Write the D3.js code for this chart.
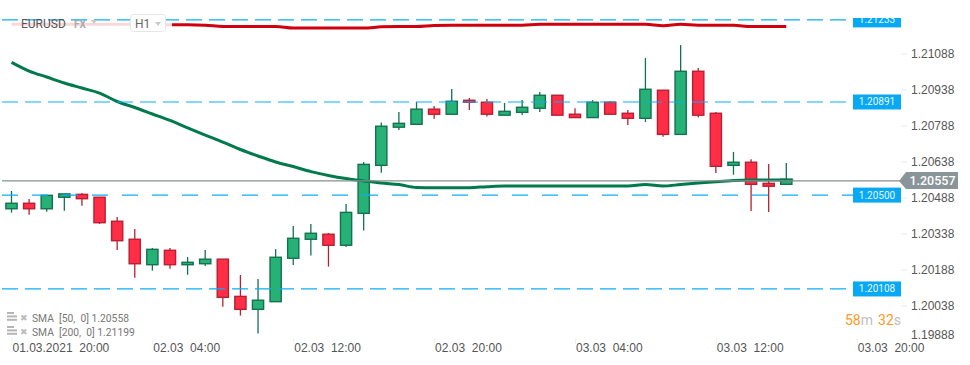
<!DOCTYPE html>
<html>
<head>
<meta charset="utf-8">
<script src="https://cdn.jsdelivr.net/npm/d3@7"></script>
<style>
    body { margin: 0; background: #fff; }
    svg { display: block; font-family: Roboto, sans-serif; }
    text { white-space: pre; }
</style>
</head>
<body>
<div id="chart"></div>
<script>
// hourly candles, first one is 01.03.2021 20:00
const opens = [1.20441, 1.20464, 1.20441, 1.20489, 1.20501, 1.20489, 1.20389, 1.20314, 1.20208, 1.20268, 1.20208, 1.20212, 1.20231, 1.20076, 1.20022,
    1.20054, 1.20235, 1.20314, 1.20335, 1.20289, 1.20422, 1.20622, 1.20781, 1.20793, 1.20856, 1.20835, 1.20893, 1.20885, 1.20831, 1.20843,
    1.20860, 1.20914, 1.20835, 1.20821, 1.20885, 1.20839, 1.20818, 1.20935, 1.20751, 1.21014, 1.20839, 1.20622, 1.20635, 1.20547, 1.20543];
const highs = [1.20515, 1.20482, 1.20497, 1.20503, 1.20507, 1.20489, 1.20407, 1.20357, 1.20278, 1.20278, 1.20240, 1.20269, 1.20231, 1.20165, 1.20148,
    1.20273, 1.20369, 1.20378, 1.20340, 1.20461, 1.20636, 1.20801, 1.20844, 1.20886, 1.20869, 1.20940, 1.20903, 1.20898, 1.20882, 1.20894,
    1.20928, 1.20915, 1.20860, 1.20894, 1.20890, 1.20853, 1.21069, 1.20935, 1.21123, 1.21028, 1.20844, 1.20678, 1.20647, 1.20628, 1.20632];
const lows = [1.20425, 1.20416, 1.20429, 1.20433, 1.20454, 1.20378, 1.20269, 1.20154, 1.20183, 1.20191, 1.20166, 1.20203, 1.20033, 1.19996, 1.19921,
    1.20054, 1.20207, 1.20246, 1.20200, 1.20282, 1.20350, 1.20591, 1.20769, 1.20793, 1.20816, 1.20835, 1.20853, 1.20825, 1.20831, 1.20832,
    1.20844, 1.20831, 1.20821, 1.20821, 1.20835, 1.20790, 1.20803, 1.20741, 1.20751, 1.20821, 1.20590, 1.20583, 1.20432, 1.20428, 1.20543];
const closes = [1.20464, 1.20441, 1.20497, 1.20503, 1.20483, 1.20383, 1.20308, 1.20212, 1.20272, 1.20208, 1.20218, 1.20231, 1.20072, 1.20022, 1.20060,
    1.20239, 1.20318, 1.20339, 1.20289, 1.20426, 1.20626, 1.20785, 1.20797, 1.20856, 1.20835, 1.20889, 1.20885, 1.20835, 1.20847, 1.20864,
    1.20914, 1.20831, 1.20821, 1.20885, 1.20835, 1.20818, 1.20939, 1.20751, 1.21014, 1.20831, 1.20618, 1.20635, 1.20543, 1.20535, 1.20564];

const sma50 = [1.21051, 1.21015, 1.20990, 1.20965, 1.20944, 1.20923, 1.20888, 1.20863, 1.20836, 1.20809, 1.20778, 1.20748, 1.20719, 1.20688, 1.20661,
    1.20636, 1.20617, 1.20596, 1.20580, 1.20567, 1.20557, 1.20548, 1.20542, 1.20530, 1.20529, 1.20529, 1.20529, 1.20533, 1.20536, 1.20536,
    1.20536, 1.20536, 1.20536, 1.20536, 1.20536, 1.20536, 1.20542, 1.20536, 1.20542, 1.20548, 1.20554, 1.20559, 1.20561, 1.20561, 1.20561];
const sma200 = [1.21210, 1.21210, 1.21210, 1.21210, 1.21210, 1.21210, 1.21210, 1.21210, 1.21210, 1.21208, 1.21208, 1.21206, 1.21201, 1.21200, 1.21200,
    1.21201, 1.21194, 1.21194, 1.21194, 1.21194, 1.21194, 1.21199, 1.21201, 1.21201, 1.21205, 1.21206, 1.21206, 1.21206, 1.21206, 1.21206,
    1.21210, 1.21210, 1.21210, 1.21210, 1.21210, 1.21210, 1.21210, 1.21204, 1.21210, 1.21206, 1.21206, 1.21206, 1.21200, 1.21200, 1.21200];

// horizontal levels, label text and where the line sits
const levelLabels = ["1.21233", "1.20891", "1.20500", "1.20108"];
const levelPrices = [1.21228, 1.20886, 1.20498, 1.20107];
const levelDashes = ["16 7", "16 7", "16 14", "16 7"];

const priceTicks = [1.21088, 1.20938, 1.20788, 1.20638, 1.20488, 1.20338, 1.20188, 1.20038, 1.19888];
const currentPrice = 1.20557;

const timeTicks = [
    new Date(2021, 2, 1, 20), new Date(2021, 2, 2, 4), new Date(2021, 2, 2, 12), new Date(2021, 2, 2, 20),
    new Date(2021, 2, 3, 4), new Date(2021, 2, 3, 12), new Date(2021, 2, 3, 20)
];

const legendRows = ["SMA  [50,  0] 1.20558", "SMA  [200,  0] 1.21199"];

const startTime = new Date(2021, 2, 1, 20);
const candleTime = i => d3.timeHour.offset(startTime, i);

const candles = opens.map((o, i) => ({
    time: candleTime(i), open: o, high: highs[i], low: lows[i], close: closes[i]
}));

const width = 970, height = 365;

const x = d3.scaleTime()
    .domain([startTime, candleTime(44)])
    .range([11.5, 786.3]);

const y = d3.scaleLinear()
    .domain([1.21088, 1.20038])
    .range([53.5, 305.5]);

const upColor = "#26b276", upStroke = "#13714f",
    downColor = "#ff2d46", downStroke = "#b81f33",
    bodyWidth = 11.2;

const svg = d3.select("#chart").append("svg")
    .attr("width", width).attr("height", height);

// candles
const candle = svg.append("g").selectAll("g")
    .data(candles)
    .enter()
    .append("g")
    .attr("transform", d => `translate(${x(d.time)}, 0)`);

candle.append("line")
    .attr("y1", d => y(d.high))
    .attr("y2", d => y(d.low))
    .attr("stroke", d => d.close >= d.open ? upStroke : downStroke)
    .attr("stroke-width", 1.3);

candle.append("rect")
    .attr("x", -bodyWidth / 2)
    .attr("width", bodyWidth)
    .attr("y", d => y(Math.max(d.open, d.close)))
    .attr("height", d => Math.abs(y(d.open) - y(d.close)))
    .attr("fill", d => d.close >= d.open ? upColor : downColor)
    .attr("stroke", d => d.close >= d.open ? upStroke : downStroke)
    .attr("stroke-width", 1.4);

// moving averages
const smaLine = d3.line()
    .x((d, i) => x(candleTime(i)))
    .y(d => y(d))
    .curve(d3.curveMonotoneX);

svg.append("path").attr("d", smaLine(sma200))
    .attr("fill", "none").attr("stroke", "#d0000f").attr("stroke-width", 3);

svg.append("path").attr("d", smaLine(sma50))
    .attr("fill", "none").attr("stroke", "#007a4d").attr("stroke-width", 3);

// the fast average runs on a little past the last candle
svg.append("line")
    .attr("x1", x(candleTime(44))).attr("x2", x(candleTime(44)) + 7)
    .attr("y1", y(sma50[44])).attr("y2", y(sma50[44]))
    .attr("stroke", "#007a4d").attr("stroke-width", 3).attr("opacity", 0.6);

// header washes out the line below it
svg.append("rect")
    .attr("x", 0).attr("y", 14).attr("width", 172).attr("height", 20)
    .attr("fill", "#fff").attr("opacity", 0.85);

// levels
svg.append("g").selectAll("line")
    .data(levelPrices)
    .enter()
    .append("line")
    .attr("x1", 2).attr("x2", 853)
    .attr("y1", d => y(d)).attr("y2", d => y(d))
    .attr("stroke", "#0aaef5")
    .attr("stroke-width", 1.2)
    .attr("stroke-dasharray", (d, i) => levelDashes[i]);

// current price line
svg.append("line")
    .attr("x1", 2).attr("x2", 900)
    .attr("y1", y(currentPrice)).attr("y2", y(currentPrice))
    .attr("stroke", "#84918f")
    .attr("stroke-width", 1.3);

// level tags, the top one is cut off at the chart edge
svg.append("clipPath").attr("id", "tagClip")
    .append("rect").attr("x", 840).attr("y", 18).attr("width", 80).attr("height", 300);

const levelTag = svg.append("g").attr("clip-path", "url(#tagClip)")
    .selectAll("g")
    .data(levelPrices)
    .enter()
    .append("g")
    .attr("transform", d => `translate(853, ${y(d)})`);

levelTag.append("rect")
    .attr("y", -7.5).attr("width", 48).attr("height", 15)
    .attr("fill", "#07a9f4");

levelTag.append("text")
    .text((d, i) => levelLabels[i])
    .attr("x", 24)
    .attr("y", 3.5)
    .attr("text-anchor", "middle")
    .attr("fill", "#e9f7ff")
    .style("font-size", "10px");

// price axis
const yAxis = svg.append("g")
    .attr("transform", "translate(901, 0)")
    .call(d3.axisRight(y).tickValues(priceTicks).tickSize(6).tickPadding(4).tickFormat(d3.format(".5f")));

yAxis.select(".domain").remove();
yAxis.selectAll("line").attr("stroke", "#e8e8e8");
yAxis.selectAll("text").attr("fill", "#555").style("font-size", "12px");

// last label does not fit and gets pushed up
const lastTick = yAxis.selectAll(".tick").filter(d => d === priceTicks[priceTicks.length - 1]);
lastTick.select("line").remove();
lastTick.select("text").attr("y", -6.5);

// current price tag
svg.append("path")
    .attr("d", `M899,${y(currentPrice)} L906,172 H958 V189 H906 Z`)
    .attr("fill", "#8a9599");

svg.append("text")
    .text(d3.format(".5f")(currentPrice))
    .attr("x", 932.5)
    .attr("y", y(currentPrice) + 4.5)
    .attr("text-anchor", "middle")
    .attr("fill", "#fff")
    .style("font-size", "12.5px")
    .style("font-weight", 500);

// time axis
const xAxis = svg.append("g")
    .attr("transform", "translate(0, 338)")
    .call(d3.axisBottom(x).tickValues(timeTicks).tickSize(6).tickPadding(0)
        .tickFormat((d, i) => d3.timeFormat(i === 0 ? "%d.%m.%Y  %H:%M" : "%d.%m  %H:%M")(d)));

xAxis.select(".domain").remove();
xAxis.selectAll("line").attr("stroke", "#efefef");
xAxis.selectAll("text")
    .attr("text-anchor", "start")
    .attr("x", 0.5)
    .attr("y", 5)
    .attr("fill", "#555")
    .style("font-size", "12px");

// header
svg.append("text").text("EURUSD")
    .attr("x", 21).attr("y", 27.5)
    .attr("fill", "#555")
    .style("font-size", "12px");

svg.append("text").text("FX")
    .attr("x", 74).attr("y", 28)
    .attr("fill", "#aaa")
    .style("font-size", "10px").style("font-weight", 700);

svg.append("path").attr("d", "M91,20 H97 L94,24 Z").attr("fill", "#c8c8c8");

svg.append("rect")
    .attr("x", 130.5).attr("y", 14.5).attr("width", 35).attr("height", 17).attr("rx", 3)
    .attr("fill", "#fff").attr("stroke", "#e6e6e6");

svg.append("text").text("H1")
    .attr("x", 135).attr("y", 27.5)
    .attr("fill", "#666")
    .style("font-size", "12px");

svg.append("path").attr("d", "M155,22 H161 L158,26 Z").attr("fill", "#c8c8c8");

// indicator legend
const legendRow = svg.append("g").selectAll("g")
    .data(legendRows)
    .enter()
    .append("g")
    .attr("transform", (d, i) => `translate(7, ${312 + i * 14})`);

[0, 3.4, 6.8].forEach((offset, k) => {
    legendRow.append("rect")
        .attr("x", 0).attr("y", offset)
        .attr("width", k === 0 ? 7 : 10).attr("height", 2)
        .attr("fill", "#b5b5b5");
});

legendRow.append("text").text("\u2716")
    .attr("x", 13).attr("y", 8.5)
    .attr("fill", "#bbb")
    .style("font-size", "9px");

legendRow.append("text").text(d => d)
    .attr("x", 25).attr("y", 10)
    .attr("fill", "#777")
    .style("font-size", "10.3px");

// countdown
const countdown = svg.append("text")
    .attr("x", 845).attr("y", 325)
    .style("font-size", "14px");

countdown.append("tspan").text("58").attr("fill", "#ff9a1f");
countdown.append("tspan").text("m").attr("fill", "#c0c0c0");
countdown.append("tspan").text("32").attr("fill", "#ff9a1f").attr("dx", 5);
countdown.append("tspan").text("s").attr("fill", "#c0c0c0");
</script>
</body>
</html>
